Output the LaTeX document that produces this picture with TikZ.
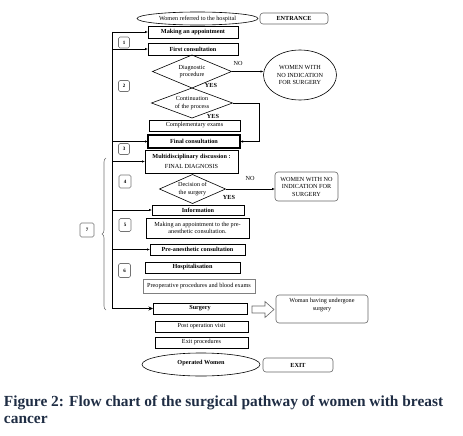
\documentclass[tikz,border=0pt]{standalone}
\usepackage{fontspec}
\setmainfont{Liberation Serif}
\usetikzlibrary{shapes.geometric,arrows.meta,decorations.pathreplacing}
\definecolor{capcol}{HTML}{1F2D44}
\newcommand{\bx}{\fontsize{6.2}{7.5}\selectfont}
\begin{document}
\begin{tikzpicture}[x=1pt,y=-1pt,
  every node/.style={inner sep=0pt, outer sep=0pt},
  box/.style={draw, line width=0.6pt, font=\bx, minimum height=11pt, align=center},
  bbox/.style={box, font=\bx\bfseries},
  numbox/.style={draw=black!55, line width=0.7pt, rounded corners=1.5pt, minimum width=11pt, minimum height=11pt, font=\fontsize{5}{6}\selectfont\bfseries},
  rbox/.style={draw=black!60, line width=0.6pt, rounded corners=3pt, font=\bx, align=center},
  oval/.style={ellipse, draw, line width=0.6pt, font=\bx, align=center},
  dia/.style={diamond, aspect=2.4, draw, line width=0.6pt, font=\bx, align=center},
  lbl/.style={font=\bx},
  arr/.style={-{Latex[length=3pt,width=2.4pt]}, line width=0.6pt},
]
\useasboundingbox (0,0) rectangle (463,436);

% top
\node[oval, minimum width=121pt, minimum height=13pt] (women) at (197.5,18.5) {Women referred to the hospital};
\node[rbox, font=\bx\bfseries, minimum width=68pt, minimum height=11pt] (entrance) at (294,18.5) {ENTRANCE};
\node[bbox, minimum width=90pt, minimum height=12pt] (mk) at (193,32) {Making an appointment};
\node[bbox, minimum width=90pt, minimum height=12pt] (fc) at (193,49) {First consultation};
\node[numbox] (n1) at (124,42.5) {1};

\node[dia, minimum width=79pt, minimum height=33pt] (diag) at (192,71.5) {Diagnostic\\procedure};
\node[lbl] (no1) at (238,63) {NO};
\node[oval, minimum width=73pt, minimum height=50pt] (wno1) at (300,75) {WOMEN WITH\\NO INDICATION\\FOR SURGERY};
\node[lbl, font=\bx\bfseries] (yes1) at (211,85) {YES};
\node[numbox] (n2) at (124,86) {2};

\node[dia, minimum width=81pt, minimum height=30pt] (cont) at (192,103) {Continuation\\of the process};
\node[lbl, font=\bx\bfseries] (yes2) at (213,116) {YES};
\node[box, minimum width=91pt, minimum height=11pt] (comp) at (194.5,125.5) {Complementary exams};
\node[bbox, line width=1.1pt, minimum width=92pt, minimum height=13pt] (final) at (194,141.5) {Final consultation};
\node[numbox] (n3) at (124,149) {3};

\node[box, minimum width=93pt, minimum height=23pt] (multi) at (191.5,161.5) {\textbf{Multidisciplinary discussion :}\\[3pt]FINAL DIAGNOSIS};
\node[numbox, minimum width=12pt, minimum height=13pt] (n4) at (125,181.5) {4};
\node[dia, minimum width=66pt, minimum height=29pt] (dec) at (192.5,189) {Decision of\\the surgery};
\node[lbl] (no2) at (250,178) {NO};
\node[lbl, font=\bx\bfseries] (yes3) at (229,197) {YES};
\node[rbox, minimum width=63pt, minimum height=29pt] (wno2) at (306.5,186.5) {WOMEN WITH NO\\INDICATION FOR\\SURGERY};

\node[bbox, minimum width=92pt, minimum height=10pt] (info) at (198,210) {Information};
\node[numbox, minimum width=12pt, minimum height=13pt] (n5) at (125,225) {5};
\node[box, line width=1pt, minimum width=103pt, minimum height=20pt] (mkpre) at (197.5,228) {Making an appointment to the pre-\\anesthetic consultation.};
\node[bbox, minimum width=95pt, minimum height=11pt] (pre) at (197.5,249.5) {Pre-anesthetic consultation};
\node[numbox, minimum width=12pt, minimum height=14pt] (n6) at (124.5,270.5) {6};
\node[bbox, minimum width=95pt, minimum height=11pt] (hosp) at (192.5,267.5) {Hospitalisation};
\node[box, draw=black!50, line width=0.4pt, minimum width=112pt, minimum height=14pt] (preop) at (199,286) {Preoperative procedures and blood exams};
\node[bbox, minimum width=94pt, minimum height=11pt] (surg) at (200,308.5) {Surgery};
\node[rbox, minimum width=92pt, minimum height=28pt, text depth=9pt] (und) at (322,309) {Woman having undergone\\surgery};
\node[box, minimum width=93pt, minimum height=11pt] (post) at (201.5,326.5) {Post operation visit};
\node[box, minimum width=93pt, minimum height=11pt] (exitp) at (201.5,342.5) {Exit procedures};
\node[oval, font=\bx\bfseries, minimum width=118pt, minimum height=23pt, text depth=4pt] (opw) at (201,364.5) {Operated Women};
\node[rbox, font=\bx\bfseries, minimum width=70pt, minimum height=14pt] (exitb) at (298,365) {EXIT};

\node[numbox, minimum width=14pt, minimum height=14pt] (n7) at (87,230) {7};

% left feedback line
\coordinate (ltop) at (112,32);
\coordinate (lbot) at (112,308.5);
\draw[line width=0.6pt] (ltop) -- (lbot);
\draw[arr] (ltop) -- (mk.west);
\draw[arr] (fc.west -| ltop) -- (fc.west);
\draw[arr] (final.west -| ltop) -- (final.west);
\draw[arr] (multi.west -| ltop) -- (multi.west);
\draw[arr] (info.west -| ltop) -- (info.west);
\draw[arr] (pre.west -| ltop) -- (pre.west);
\draw[-{Stealth[length=4.5pt,width=4pt]}, line width=0.9pt] (lbot) -- (surg.west);

% brace
\draw[black!55, line width=0.6pt, decorate, decoration={brace, amplitude=4pt}] (106,310) -- (106,158);

% branches
\draw[arr] (diag.east) -- (diag.east -| wno1.west);
\draw[arr] (cont.east) -- ++(26.5,0) |- (final.east);
\draw[arr] (dec.east) -- (dec.east -| wno2.west);

% block arrow
\draw[black!60, line width=0.6pt] (252,306) -- (265,306) -- (265,301.5) -- (274,309.5) -- (265,317.5) -- (265,313) -- (252,313) -- cycle;

% caption
\node[anchor=north west, align=left, text=capcol, font=\fontsize{15.4}{17}\selectfont\bfseries] (cap) at (4,396) {Figure 2: Flow chart of the surgical pathway of women with breast\\cancer};
\end{tikzpicture}
\end{document}
